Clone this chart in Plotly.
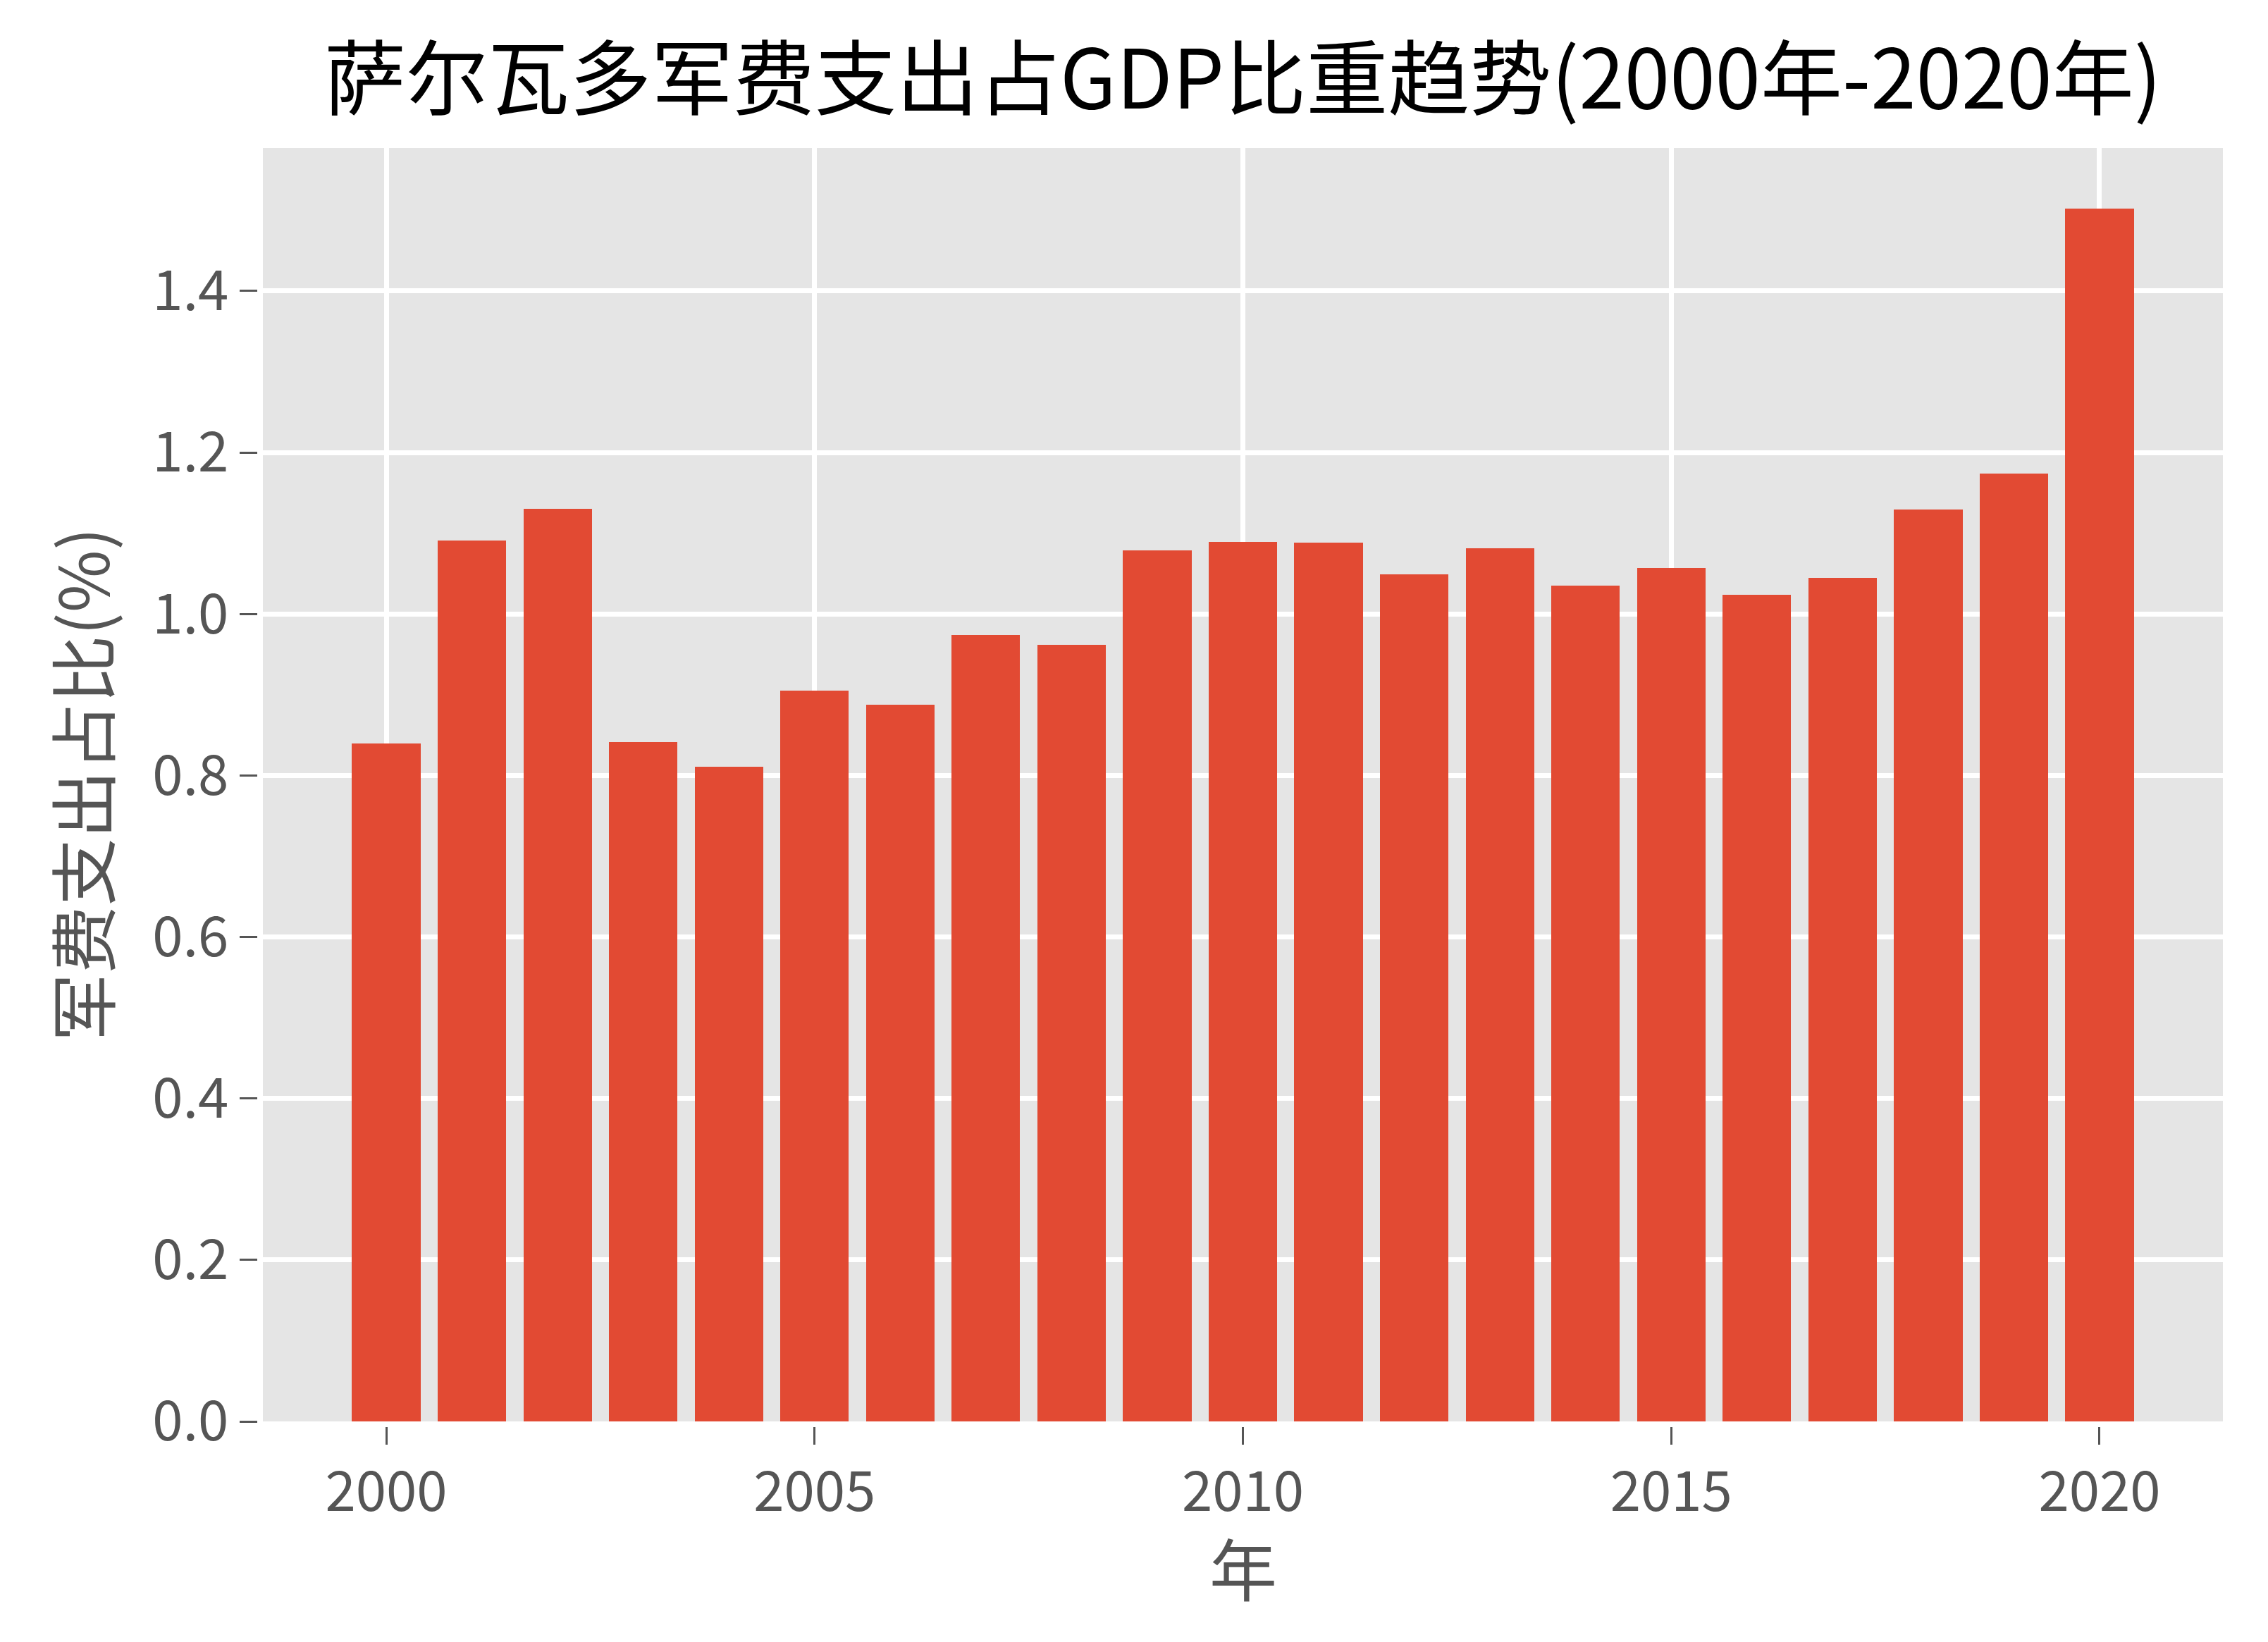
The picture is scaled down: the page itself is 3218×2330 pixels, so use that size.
import plotly.graph_objects as go

years = list(range(2000, 2021))
values = [0.840, 1.091, 1.130, 0.841, 0.811, 0.905, 0.888, 0.974, 0.962, 1.079,
          1.089, 1.088, 1.049, 1.081, 1.035, 1.057, 1.024, 1.045, 1.129, 1.174, 1.502]
y_ticks = [0.0, 0.2, 0.4, 0.6, 0.8, 1.0, 1.2, 1.4]
x_ticks = [2000, 2005, 2010, 2015, 2020]

title_text = "萨尔瓦多军费支出占GDP比重趋势(2000年-2020年)"
x_label = "年"
y_label = "军费支出占比(%)"

FONT = "Noto Sans CJK SC"
W, H = 3218, 2330
L, R, T, B = 373, 64, 210, 313

fig = go.Figure()
fig.add_trace(go.Bar(x=years, y=values, width=0.8,
                     marker=dict(color="#E24A33", line=dict(width=0))))

axis_common = dict(showgrid=True, gridcolor="white", gridwidth=7,
                   zeroline=False, showline=True, linecolor="white", linewidth=8,
                   ticks="outside", ticklen=25, tickwidth=3, tickcolor="#555555",
                   tickfont=dict(family=FONT, size=78, color="#555555"))

fig.update_layout(
    width=W, height=H,
    margin=dict(l=L, r=R, t=T, b=B, autoexpand=False),
    paper_bgcolor="white",
    plot_bgcolor="#E5E5E5",
    showlegend=False,
    bargap=0,
    font=dict(family=FONT, color="#555555"),
    title=dict(text=title_text, x=(L + (W - R - L) / 2) / W, xanchor="center",
               xref="container", y=1 - 113 / H, yref="container", yanchor="middle",
               font=dict(family=FONT, size=116, color="black")),
    xaxis=dict(range=[1998.56, 2021.44], tickmode="array", tickvals=x_ticks,
               ticktext=[str(v) for v in x_ticks], **axis_common),
    yaxis=dict(range=[0, 1.5771], tickmode="array", tickvals=y_ticks,
               ticktext=[f"{v:.1f}" for v in y_ticks], **axis_common),
)

PH = H - T - B
PW = W - L - R
fig.add_annotation(text=x_label, xref="paper", yref="paper",
                   x=0.5, y=-(2222 - (H - B)) / PH, xanchor="center", yanchor="middle",
                   showarrow=False, font=dict(family=FONT, size=96, color="#555555"))
fig.add_annotation(text=y_label, xref="paper", yref="paper",
                   x=-(L - 113) / PW, y=0.5, xanchor="center", yanchor="middle",
                   textangle=-90,
                   showarrow=False, font=dict(family=FONT, size=96, color="#555555"))

fig.write_html("out.html")
